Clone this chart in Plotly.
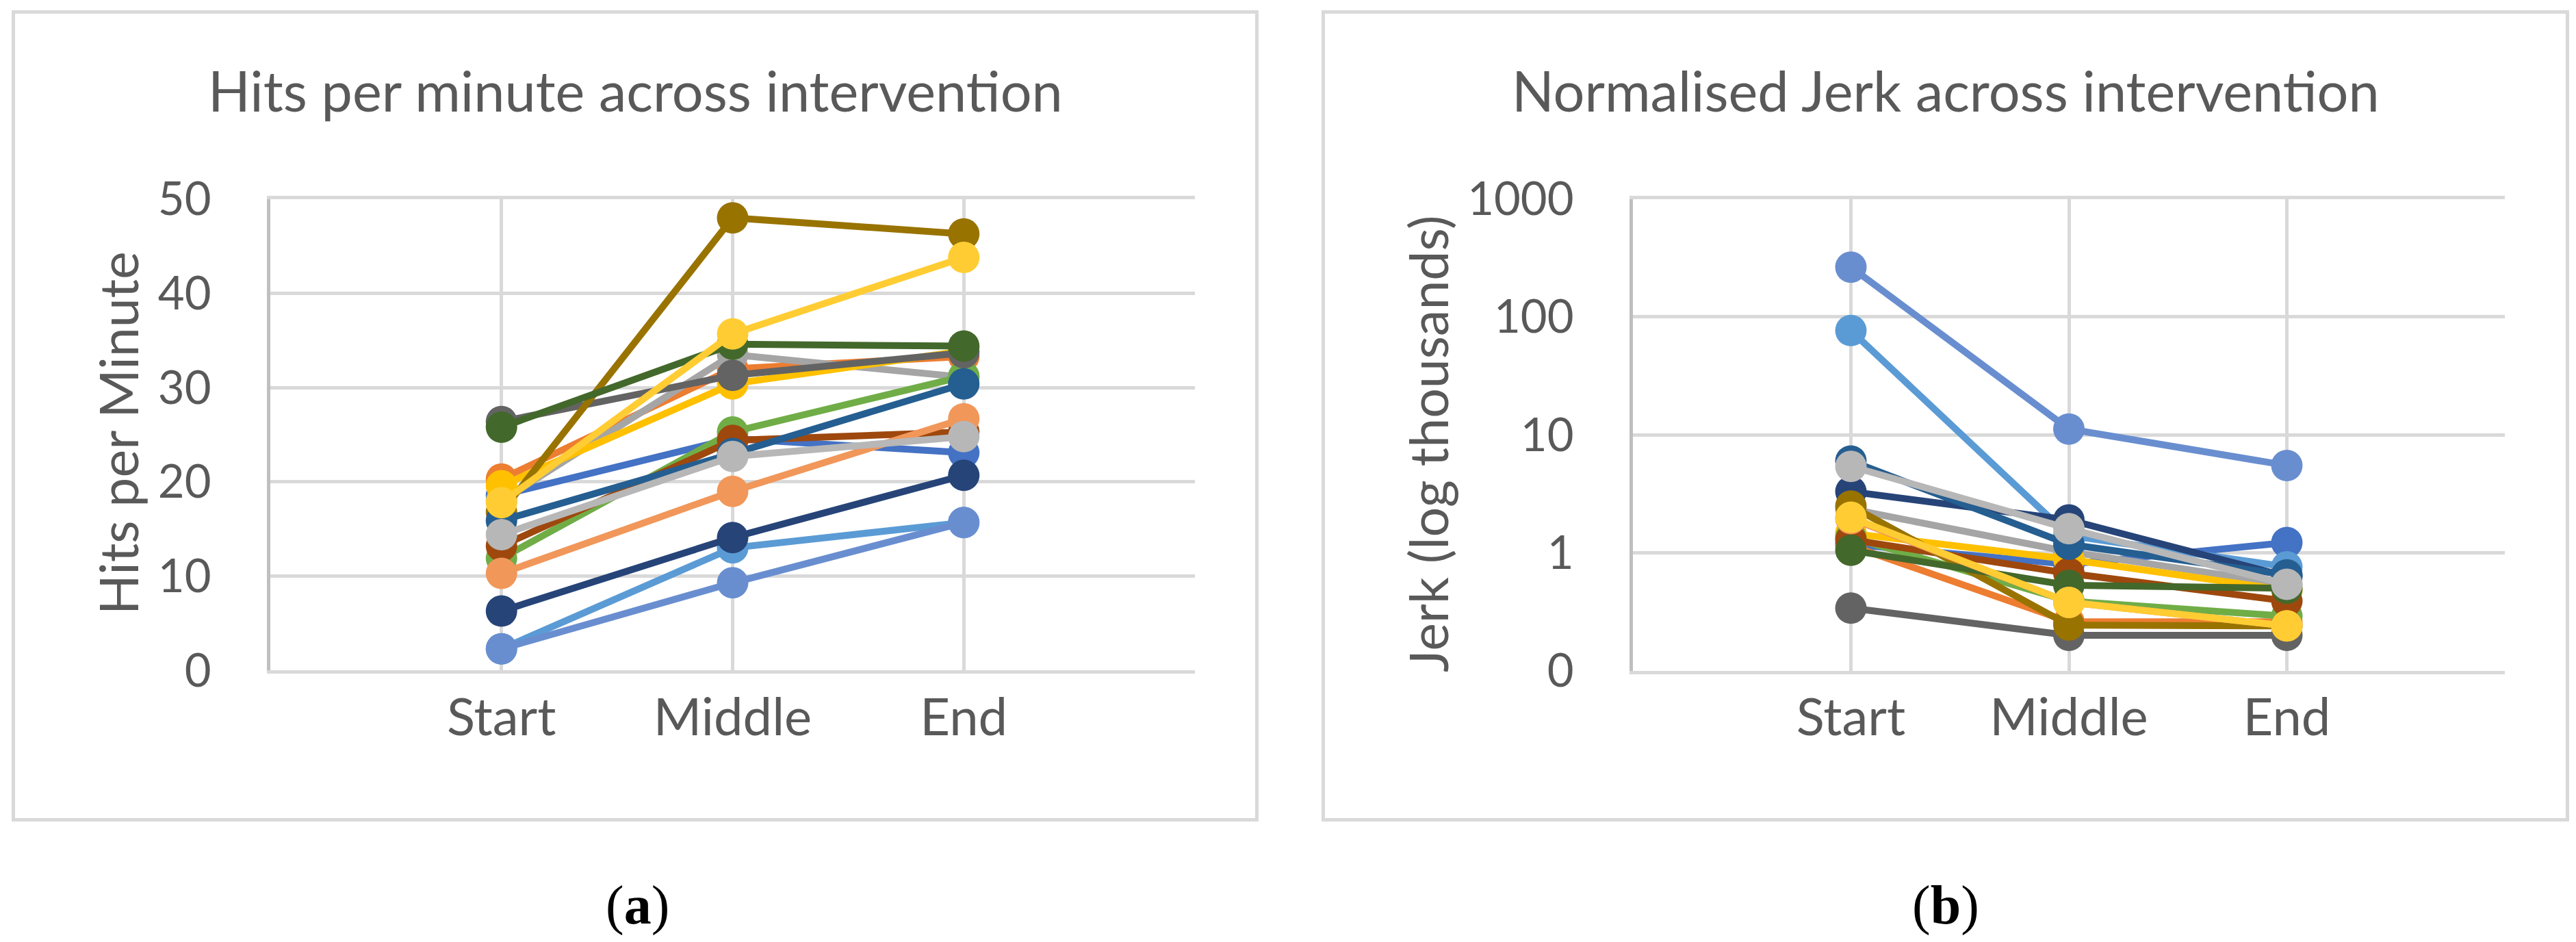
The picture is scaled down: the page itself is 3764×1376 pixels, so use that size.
import plotly.graph_objects as go

# ---------------- data ----------------
categories = ["Start", "Middle", "End"]
participants = [f"P{i}" for i in range(1, 17)]

hits_start = [18.6, 20.3, 18.0, 19.6, 2.3, 11.9, 6.3, 13.2, 26.4, 16.8, 15.9, 25.8, 2.3, 10.3, 14.4, 17.8]
hits_middle = [24.6, 32.0, 33.5, 30.4, 13.0, 25.3, 14.1, 24.4, 31.3, 48.0, 23.0, 34.6, 9.3, 19.0, 22.7, 35.7]
hits_end = [23.1, 33.3, 31.1, 33.9, 15.7, 31.2, 20.7, 25.3, 33.7, 46.3, 30.4, 34.4, 15.7, 26.7, 24.8, 43.8]

jerk_start = [1.18, 1.15, 2.35, 1.46, 76.5, 1.35, 3.3, 1.29, 0.34, 2.49, 6.0, 1.05, 264, 1.95, 5.4, 2.0]
jerk_middle = [0.8, 0.26, 1.02, 0.88, 1.4, 0.39, 1.9, 0.67, 0.2, 0.244, 1.18, 0.53, 11.2, 0.38, 1.6, 0.38]
jerk_end = [1.22, 0.26, 0.54, 0.48, 0.76, 0.29, 0.63, 0.39, 0.2, 0.24, 0.65, 0.5, 5.5, 0.24, 0.54, 0.24]

hits_tickvals = [0, 10, 20, 30, 40, 50]
jerk_tickvals = [0.1, 1, 10, 100, 1000]
jerk_ticktext = ["0", "1", "10", "100", "1000"]

title_a = "Hits per minute across intervention"
title_b = "Normalised Jerk across intervention"
ytitle_a = "Hits per Minute"
ytitle_b = "Jerk (log thousands)"
panel_a = "(<b>a</b>)"
panel_b = "(<b>b</b>)"

# ---------------- styles ----------------
COLORS = ["#4472C4", "#ED7D31", "#A5A5A5", "#FFC000", "#5B9BD5", "#70AD47",
          "#264478", "#9E480E", "#636363", "#997300", "#255E91", "#43682B",
          "#698ED0", "#F1975A", "#B7B7B7", "#FFCD33"]
W, H = 3764, 1376
FONT = "Lato"
TXT = "#595959"
GRID = "#D9D9D9"
FS_TITLE = 81
FS_XTICK = 76
FS_YTICK = 67
FS_YTITLE = 77

def px(x):
    return x / W

def py(y):
    return 1 - y / H

fig = go.Figure()
xpos = list(range(len(categories)))

for i, name in enumerate(participants):
    fig.add_trace(go.Scatter(
        x=xpos, y=[hits_start[i], hits_middle[i], hits_end[i]],
        mode="lines+markers", name=name, showlegend=False,
        line=dict(color=COLORS[i], width=10),
        marker=dict(color=COLORS[i], size=46),
        xaxis="x", yaxis="y"))
for i, name in enumerate(participants):
    fig.add_trace(go.Scatter(
        x=xpos, y=[jerk_start[i], jerk_middle[i], jerk_end[i]],
        mode="lines+markers", name=name, showlegend=False,
        line=dict(color=COLORS[i], width=10),
        marker=dict(color=COLORS[i], size=46),
        xaxis="x2", yaxis="y2"))

xt_vals = [-1] + xpos + [len(categories)]
xt_text = [""] + categories + [""]

xcommon = dict(range=[-1, len(categories)], tickvals=xt_vals, ticktext=xt_text,
               showgrid=True, gridcolor=GRID, gridwidth=5, zeroline=False,
               showline=True, linecolor=GRID, linewidth=5, mirror=True,
               ticks="", ticklabelstandoff=-2, automargin=False,
               tickfont=dict(family=FONT, size=FS_XTICK, color=TXT))
ycommon = dict(showgrid=True, gridcolor=GRID, gridwidth=5, zeroline=False,
               showline=True, linecolor="#BFBFBF", linewidth=5, mirror=False,
               ticks="", ticklabelstandoff=68, automargin=False,
               tickfont=dict(family=FONT, size=FS_YTICK, color=TXT))

fig.update_layout(
    width=W, height=H, margin=dict(l=0, r=0, t=0, b=0, autoexpand=False),
    paper_bgcolor="white", plot_bgcolor="white",
    xaxis=dict(domain=[px(395), px(1746)], anchor="y", **xcommon),
    yaxis=dict(domain=[py(979.4), py(290.7)], anchor="x", range=[0, 50],
               tickvals=hits_tickvals, **ycommon),
    xaxis2=dict(domain=[px(2386), px(3660)], anchor="y2", **xcommon),
    yaxis2=dict(domain=[py(979.8), py(290.5)], anchor="x2", type="log",
                range=[-1, 3], tickvals=jerk_tickvals, ticktext=jerk_ticktext,
                **ycommon),
)

# chart frames
for x0, x1 in [(19.5, 1836.5), (1933.5, 3751.5)]:
    fig.add_shape(type="rect", xref="paper", yref="paper",
                  x0=px(x0), x1=px(x1), y0=py(1197.5), y1=py(17.5),
                  line=dict(color=GRID, width=5), fillcolor="rgba(0,0,0,0)",
                  layer="below")

anns = [
    dict(text=title_a, x=px(928), y=py(131), font=dict(family=FONT, size=FS_TITLE, color=TXT)),
    dict(text=title_b, x=px(2843), y=py(131), font=dict(family=FONT, size=FS_TITLE, color=TXT)),
    dict(text=ytitle_a, x=px(172), y=py(633), textangle=-90, font=dict(family=FONT, size=FS_YTITLE, color=TXT)),
    dict(text=ytitle_b, x=px(2086), y=py(648), textangle=-90, font=dict(family=FONT, size=FS_YTITLE, color=TXT)),
    dict(text=panel_a, x=px(931), y=py(1322), font=dict(family="Liberation Serif", size=80, color="black")),
    dict(text=panel_b, x=px(2843), y=py(1322), font=dict(family="Liberation Serif", size=80, color="black")),
]
for a in anns:
    fig.add_annotation(xref="paper", yref="paper", showarrow=False,
                       xanchor="center", yanchor="middle", **a)

fig.write_html("out.html", config={"displayModeBar": False},
               post_script="document.body.style.margin='0';document.body.style.overflow='hidden';")
